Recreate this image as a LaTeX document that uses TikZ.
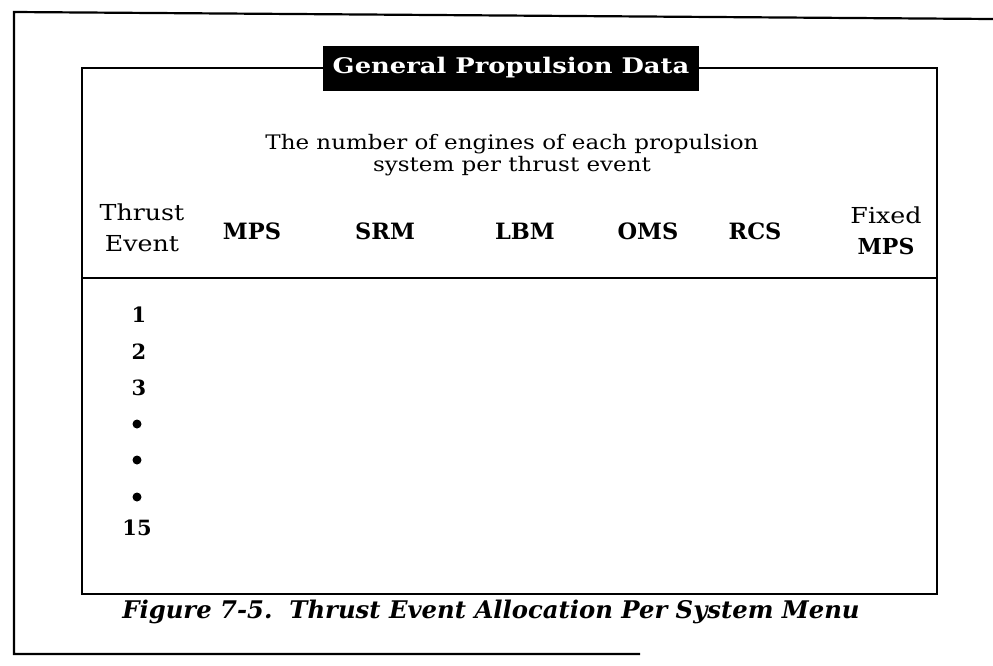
\documentclass[tikz,border=0pt]{standalone}
\usepackage{fontspec}
\setmainfont{DejaVu Serif}
\newfontfamily\widefont[FakeStretch=1.15]{DejaVu Serif}
\newfontfamily\titlefont[FakeStretch=1.2]{DejaVu Serif}

\begin{document}
\begin{tikzpicture}[x=1pt,y=-1pt]
          \tikzstyle{frame}=[line width=2.2pt]
          \tikzstyle{titlebox}=[fill=black, text=white, inner sep=0pt, minimum width=376pt, minimum height=45pt, font=\titlefont\fontsize{21.5}{21.5}\selectfont\bfseries]
          \tikzstyle{subtitle}=[align=center, font=\widefont\fontsize{20}{22}\selectfont]
          \tikzstyle{colhead}=[align=center, font=\widefont\fontsize{22}{31}\selectfont]
          \tikzstyle{boldhead}=[font=\fontsize{22.5}{22.5}\selectfont\bfseries]
          \tikzstyle{rowlabel}=[font=\fontsize{21}{21}\selectfont\bfseries]
          \tikzstyle{rowdot}=[circle, fill=black, inner sep=0pt, minimum size=9pt]
          \tikzstyle{caption}=[font=\fontsize{24.3}{24.3}\selectfont\bfseries\itshape]

          \useasboundingbox (0, 0) rectangle (993, 665);

          % outer frame
          \coordinate (O1) at (993, 19);
          \coordinate (O2) at (14, 12);
          \coordinate (O3) at (14, 654);
          \coordinate (O4) at (640, 654);
          \draw[frame] (O1) -- (O2) -- (O3) -- (O4);

          % menu box
          \node (title) at (511, 68) [titlebox] {General Propulsion Data};
          \coordinate (TL) at (82, 68);
          \coordinate (TR) at (937, 68);
          \coordinate (BL) at (82, 594);
          \coordinate (BR) at (937, 594);
          \draw[frame] (title.west) -- (TL) -- (BL) -- (BR) -- (TR) -- (title.east);

          \coordinate (HL) at (82, 278);
          \coordinate (HR) at (937, 278);
          \draw[frame] (HL) -- (HR);

          \node (sub) at (512, 155) [subtitle] {The number of engines of each propulsion\\system per thrust event};

          % column headers
          \node (event) at (142, 228) [colhead] {Thrust\\Event};
          \node (mps) at (252, 231) [boldhead] {MPS};
          \node (srm) at (385, 231) [boldhead] {SRM};
          \node (lbm) at (525, 231) [boldhead] {LBM};
          \node (oms) at (648, 231) [boldhead] {OMS};
          \node (rcs) at (755, 231) [boldhead] {RCS};
          \node (fixed) at (886, 231) [colhead] {Fixed\\\textbf{\normalfont\bfseries MPS}};

          % thrust events
          \node (r1) at (139, 315) [rowlabel] {1};
          \node (r2) at (139, 352) [rowlabel] {2};
          \node (r3) at (139, 388) [rowlabel] {3};
          \node (d1) at (137, 424) [rowdot] {};
          \node (d2) at (137, 460) [rowdot] {};
          \node (d3) at (137, 497) [rowdot] {};
          \node (r15) at (137, 528) [rowlabel] {15};

          \node (fig) at (491, 612) [caption] {Figure 7-5.\ \ Thrust Event Allocation Per System Menu};
        \end{tikzpicture}
\end{document}
